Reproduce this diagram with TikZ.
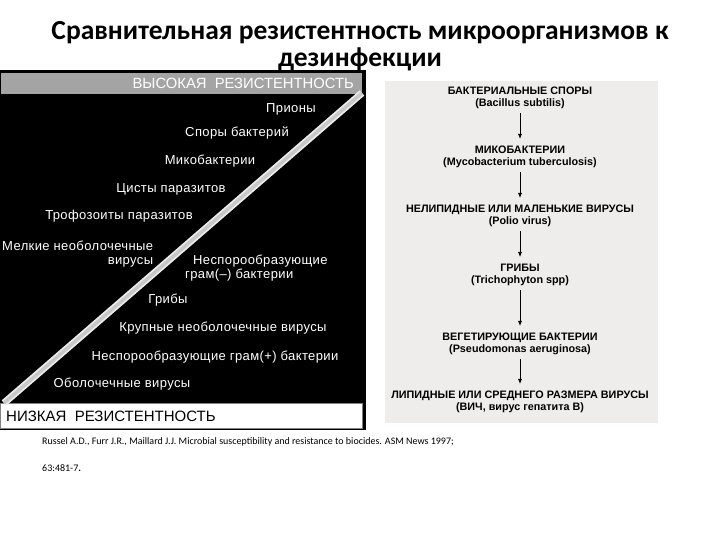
\documentclass[tikz,border=0pt]{standalone}
\usepackage{fontspec}
\setmainfont{Carlito}
\newfontfamily\arialfont{Liberation Sans}
\newfontfamily\wideArial[LetterSpace=3]{Liberation Sans}
\usetikzlibrary{arrows.meta,positioning,calc}
\definecolor{paper}{HTML}{EEEDEB}
\definecolor{barGrey}{HTML}{A4A4A4}
\definecolor{stripe}{HTML}{C8C8C8}

\begin{document}
\begin{tikzpicture}[x=1pt,y=-1pt,every node/.style={align=center,inner sep=2pt},
  lab/.style={text=white,font=\wideArial\fontsize{13}{13.5}\selectfont},
  org/.style={font=\arialfont\bfseries\fontsize{10.8}{12}\selectfont},
  down/.style={-{Latex[length=5pt,width=4pt]},semithick,shorten <=2pt,shorten >=5pt}]
\useasboundingbox (0,0) rectangle (720,540);
\node[font=\bfseries\fontsize{27.5}{27}\selectfont] (title) at (360,46) {Сравнительная резистентность микроорганизмов к\\дезинфекции};
% left panel
\fill[black] (0,70) rectangle (366,430);
\draw[black,fill=barGrey] (0,72) rectangle (362,94);
\draw[gray,fill=white] (0,403) rectangle (362,428);
\draw[line width=7pt,white!85!gray] (362,93) -- (4,403);
\draw[line width=3.5pt,stripe] (362,93) -- (4,403);
\node[anchor=east,text=white,font=\arialfont\fontsize{14.8}{15}\selectfont] (high) at (356,83) {ВЫСОКАЯ\ \ РЕЗИСТЕНТНОСТЬ};
\node[anchor=west,font=\arialfont\fontsize{15}{15}\selectfont] (low) at (4,416) {НИЗКАЯ\ \ РЕЗИСТЕНТНОСТЬ};
\node[lab] (prions) at (291,109) {Прионы};
\node[lab] (spores) at (237,133) {Споры бактерий};
\node[lab] (mycob) at (210,161) {Микобактерии};
\node[lab] (cysts) at (171,189) {Цисты паразитов};
\node[lab] (troph) at (119,216) {Трофозоиты паразитов};
\node[lab,align=right,anchor=north west,inner sep=1pt] (small) at (1,240) {Мелкие необолочечные\\вирусы};
\node[lab,align=left,anchor=north west] (gramneg) at (183,253) {\ \ Неспорообразующие\\грам(–) бактерии};
\node[lab] (fungi) at (168,300) {Грибы};
\node[lab] (large) at (223,328) {Крупные необолочечные вирусы};
\node[lab] (grampos) at (215,357) {Неспорообразующие грам(+) бактерии};
\node[lab] (envel) at (122,384) {Оболочечные вирусы};
% right panel
\fill[paper] (385,81) rectangle (658,423);
\node[org] (bspores) at (520,98) {БАКТЕРИАЛЬНЫЕ СПОРЫ\\(Bacillus subtilis)};
\node[org] (myco) at (520,157) {МИКОБАКТЕРИИ\\(Mycobacterium tuberculosis)};
\node[org] (polio) at (520,216) {НЕЛИПИДНЫЕ ИЛИ МАЛЕНЬКИЕ ВИРУСЫ\\(Polio virus)};
\node[org] (grib) at (520,275) {ГРИБЫ\\(Trichophyton spp)};
\node[org] (veget) at (520,344) {ВЕГЕТИРУЮЩИЕ БАКТЕРИИ\\(Pseudomonas aeruginosa)};
\node[org] (lipid) at (520,402) {ЛИПИДНЫЕ ИЛИ СРЕДНЕГО РАЗМЕРА ВИРУСЫ\\(ВИЧ, вирус гепатита B)};
\draw[down] (bspores)--(myco);
\draw[down] (myco)--(polio);
\draw[down] (polio)--(grib);
\draw[down] (grib)--(veget);
\draw[down] (veget)--(lipid);
% reference
\node[anchor=west,font=\fontsize{10}{12}\selectfont] (ref1) at (40,442) {Russel A.D., Furr J.R., Maillard J.J. Microbial susceptibility and resistance to biocides. ASM News 1997;};
\node[anchor=west,font=\fontsize{10}{12}\selectfont] (ref2) at (40,468) {63:481-7\textbf{.}};
\end{tikzpicture}
\end{document}
